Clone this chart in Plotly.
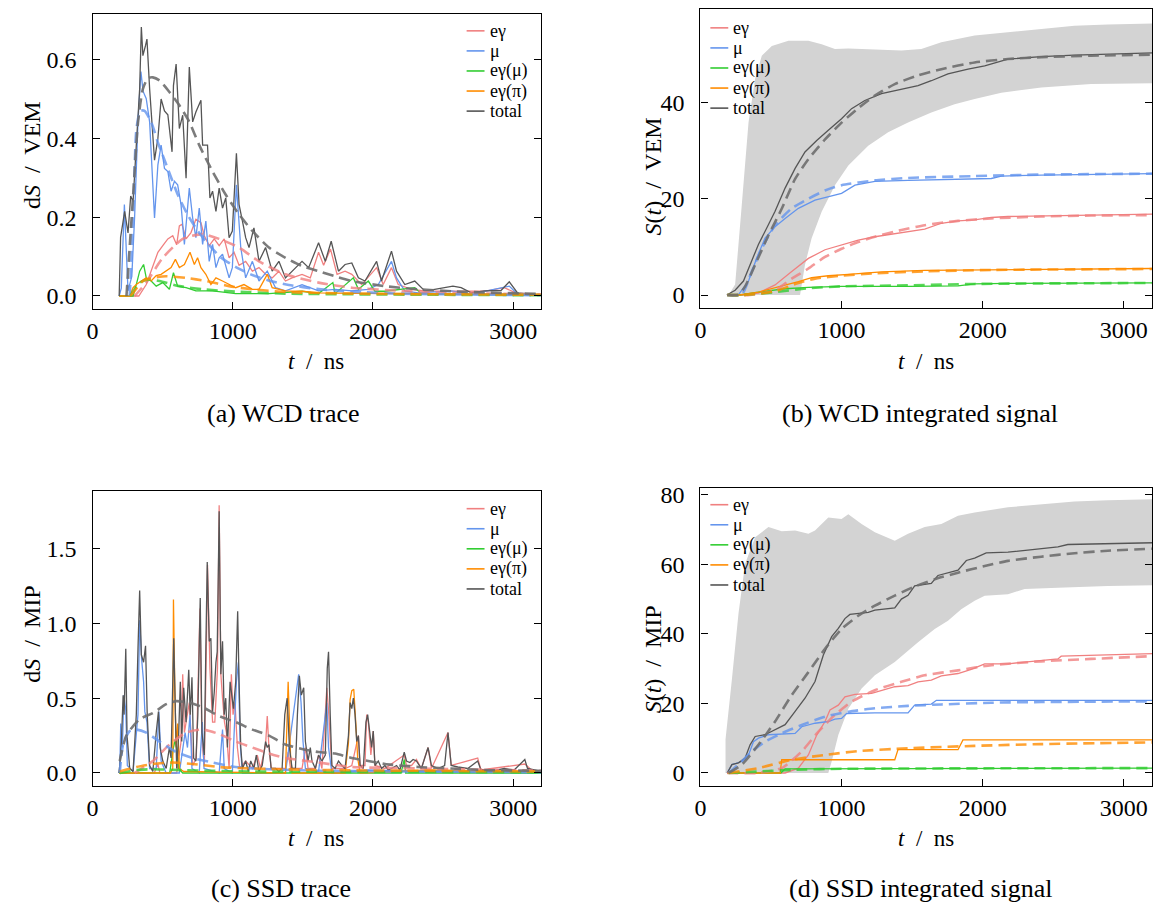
import plotly.graph_objects as go

# ---------------- data (t in ns, value) ----------------
# Panel (a): WCD trace, dS / VEM
A_EG = [(190,0),(330,0.0),(383,0.029),(430,0.078),(466,0.111),(501,0.128),(537,0.145),(572,0.153),(600,0.13),(619,0.178),(638,0.182),(667,0.145),(702,0.161),(737,0.195),(773,0.186),(797,0.153),(832,0.128),(868,0.145),(903,0.128),(939,0.145),(974,0.097),(1009,0.111),(1045,0.078),(1092,0.088),(1140,0.063),(1187,0.072),(1234,0.055),(1281,0.046),(1329,0.063),(1376,0.038),(1423,0.046),(1494,0.055),(1553,0.046),(1612,0.111),(1648,0.078),(1697,0.119),(1744,0.055),(1801,0.063),(1849,0.055),(1919,0.029),(2026,0.072),(2073,0.029),(2132,0.072),(2180,0.029),(2274,0.017),(2369,0.013),(2560,0.012),(2794,0.012),(2936,0.021),(3031,0.006),(3200,0.003)]
A_MU = [(190,0),(205,0.02),(227,0.232),(240,0.14),(253,0.013),(280,0.05),(300,0.2),(324,0.442),(345,0.57),(360,0.52),(383,0.501),(407,0.442),(442,0.198),(466,0.333),(489,0.383),(513,0.324),(537,0.316),(560,0.266),(584,0.291),(607,0.282),(631,0.232),(655,0.131),(690,0.274),(714,0.198),(737,0.148),(761,0.223),(785,0.131),(808,0.190),(832,0.088),(856,0.131),(880,0.072),(903,0.097),(927,0.106),(974,0.046),(997,0.072),(1026,0.282),(1057,0.123),(1092,0.046),(1140,0.088),(1187,0.038),(1246,0.063),(1305,0.021),(1376,0.013),(1494,0.029),(1612,0.013),(1730,0.017),(1849,0.013),(1967,0.017),(2038,0.029),(2132,0.088),(2168,0.046),(2227,0.013),(2322,0.008),(2558,0.013),(2700,0.005),(2972,0.025),(3031,0.005),(3200,0.003)]
A_EGMU = [(190,0),(289,0.0),(312,0.029),(336,0.063),(364,0.080),(383,0.046),(418,0.038),(454,0.025),(501,0.034),(548,0.017),(577,0.059),(607,0.025),(667,0.021),(737,0.013),(856,0.013),(1021,0.006),(1258,0.006),(1494,0.012),(1612,0.006),(1714,0.034),(1730,0.006),(1860,0.046),(1896,0.017),(1967,0.038),(2014,0.012),(2085,0.012),(2298,0.021),(2345,0.006),(3200,0.002)]
A_EGPI = [(190,0),(265,0.0),(289,0.021),(312,0.029),(348,0.038),(383,0.046),(418,0.038),(454,0.052),(489,0.055),(525,0.063),(560,0.072),(591,0.093),(619,0.072),(655,0.080),(695,0.111),(726,0.080),(749,0.097),(773,0.072),(808,0.055),(844,0.029),(880,0.046),(927,0.038),(974,0.029),(1021,0.021),(1080,0.029),(1140,0.017),(1187,0.017),(1246,0.055),(1281,0.021),(1376,0.013),(1494,0.012),(1612,0.008),(1849,0.007),(2085,0.006),(2322,0.006),(3200,0.004)]
A_TOT = [(190,0),(200,0.149),(229,0.215),(253,0.16),(272,0.254),(289,0.24),(312,0.383),(336,0.526),(348,0.683),(359,0.61),(378,0.636),(388,0.652),(407,0.526),(430,0.40),(442,0.345),(466,0.40),(489,0.50),(513,0.47),(537,0.46),(567,0.366),(577,0.534),(596,0.589),(619,0.425),(643,0.459),(667,0.299),(690,0.581),(714,0.442),(737,0.467),(773,0.497),(785,0.383),(820,0.383),(837,0.249),(856,0.266),(880,0.215),(903,0.274),(927,0.223),(950,0.249),(974,0.148),(997,0.165),(1026,0.362),(1045,0.232),(1069,0.190),(1092,0.148),(1116,0.123),(1151,0.173),(1187,0.088),(1234,0.123),(1281,0.063),(1329,0.088),(1376,0.046),(1423,0.063),(1494,0.088),(1541,0.072),(1612,0.135),(1660,0.088),(1702,0.139),(1754,0.063),(1801,0.080),(1849,0.084),(1896,0.046),(1943,0.038),(2026,0.088),(2061,0.038),(2132,0.114),(2168,0.063),(2227,0.029),(2298,0.038),(2369,0.013),(2440,0.017),(2570,0.025),(2629,0.021),(2700,0.008),(2794,0.013),(2913,0.014),(2972,0.036),(3031,0.008),(3200,0.003)]
A_EG_FIT = [(300,0),(383,0.034),(501,0.097),(643,0.145),(785,0.157),(903,0.145),(1045,0.123),(1187,0.088),(1376,0.055),(1612,0.034),(1849,0.021),(2204,0.013),(2560,0.008),(3200,0.004)]
A_MU_FIT = [(265,0),(290,0.2),(312,0.42),(340,0.47),(371,0.47),(420,0.44),(466,0.39),(540,0.32),(608,0.257),(680,0.205),(750,0.165),(830,0.13),(915,0.098),(1020,0.074),(1128,0.055),(1250,0.04),(1400,0.028),(1600,0.018),(1850,0.011),(2200,0.006),(3200,0.002)]
A_EGMU_FIT = [(270,0),(336,0.034),(407,0.042),(478,0.038),(619,0.025),(785,0.017),(1021,0.011),(1376,0.006),(3200,0.002)]
A_EGPI_FIT = [(270,0),(289,0.008),(359,0.038),(430,0.046),(525,0.050),(667,0.046),(808,0.038),(974,0.025),(1140,0.017),(1376,0.010),(1849,0.006),(3200,0.003)]
A_TOT_FIT = [(242,0),(289,0.254),(324,0.440),(359,0.526),(395,0.553),(430,0.555),(478,0.547),(548,0.518),(619,0.484),(690,0.442),(761,0.383),(856,0.316),(950,0.257),(1045,0.207),(1140,0.165),(1258,0.123),(1376,0.097),(1494,0.076),(1612,0.063),(1730,0.050),(1849,0.038),(2085,0.025),(2322,0.017),(2558,0.012),(2794,0.009),(3200,0.005)]

# Panel (b): WCD integrated signal, S(t) / VEM
B_EG = [(190,0),(300,0.0),(411,0.4),(529,2.1),(647,4.9),(765,7.6),(883,9.4),(1000,10.4),(1118,11.4),(1236,12.1),(1353,12.6),(1471,13.2),(1589,13.7),(1707,14.9),(1825,15.4),(1943,15.6),(2061,16.1),(2179,16.3),(2650,16.5),(3204,16.8)]
B_MU = [(190,0),(270,0.1),(341,2.9),(399,7.7),(458,11.8),(529,14.2),(600,15.9),(694,18.0),(812,19.7),(906,20.4),(1000,21.1),(1095,22.8),(1236,23.6),(1471,23.8),(1707,24.0),(2061,24.2),(2132,24.7),(2415,24.9),(3204,25.2)]
B_EGMU = [(190,0),(280,0.0),(411,0.6),(600,1.3),(765,1.6),(1000,1.8),(1471,1.8),(1825,1.9),(1943,2.3),(2179,2.4),(3204,2.5)]
B_EGPI = [(190,0),(280,0.0),(411,0.6),(576,1.8),(694,2.8),(788,3.6),(906,4.0),(1048,4.3),(1283,4.8),(1589,5.1),(1943,5.2),(2415,5.3),(3204,5.5)]
B_TOT = [(187,0),(246,1.0),(305,2.9),(364,7.0),(411,10.5),(470,13.9),(529,17.4),(600,22.2),(671,26.3),(741,29.7),(824,32.1),(906,34.2),(1000,36.6),(1071,38.7),(1165,40.4),(1283,41.8),(1424,42.7),(1542,43.5),(1636,44.5),(1754,45.9),(1896,46.9),(2014,47.6),(2179,49.0),(2415,49.5),(2650,49.8),(2886,50.0),(3204,50.3)]
B_EG_FIT = [(190,0),(350,0.0),(529,1.0),(647,3.4),(765,5.5),(883,7.9),(1000,9.6),(1118,11.0),(1236,12.1),(1424,13.5),(1589,14.5),(1825,15.4),(2061,15.9),(2415,16.3),(2768,16.5),(3204,16.6)]
B_MU_FIT = [(190,0),(290,0.0),(364,4.9),(435,9.7),(529,14.5),(647,18.0),(765,20.0),(883,21.7),(1000,22.8),(1236,23.8),(1471,24.3),(1943,24.7),(2415,25.0),(3204,25.2)]
B_EGMU_FIT = [(190,0),(300,0.0),(529,0.6),(765,1.4),(1000,1.8),(1471,2.0),(1943,2.3),(3204,2.5)]
B_EGPI_FIT = [(190,0),(300,0.0),(529,0.8),(694,2.5),(812,3.4),(1000,4.0),(1236,4.5),(1589,4.9),(2061,5.2),(3204,5.4)]
B_TOT_FIT = [(190,0),(270,0.1),(317,1.8),(388,6.3),(482,12.4),(576,17.9),(671,24.1),(765,28.2),(883,32.3),(1000,35.8),(1118,38.8),(1236,41.4),(1377,43.8),(1542,45.6),(1707,46.9),(1943,48.3),(2179,49.0),(2415,49.4),(2768,49.7),(3204,49.9)]
B_BAND_HI = [(200,0),(246,2.2),(293,18.7),(341,35.9),(388,44.9),(435,49.7),(506,51.7),(624,52.8),(765,52.8),(859,52.1),(953,51.1),(1048,51.2),(1236,51.0),(1424,50.8),(1565,51.1),(1707,52.5),(1943,53.9),(2179,54.6),(2415,55.2),(2650,55.9),(2886,56.2),(3204,56.4)]
B_BAND_LO = [(200,0),(706,0),(741,6.3),(788,11.8),(859,17.3),(953,22.8),(1048,26.9),(1189,31.0),(1330,33.8),(1471,35.8),(1636,37.9),(1801,39.6),(1943,40.7),(2132,42.0),(2415,43.1),(2768,43.8),(3204,44.0)]

# Panel (c): SSD trace, dS / MIP
C_EG = [(190,0),(440,0),(466,0.06),(480,0.0),(600,0.0),(630,0.2),(643,0.66),(655,0.27),(690,0.47),(714,0.05),(740,0.1),(766,1.1),(780,0.21),(797,0.05),(813,0.91),(820,1.39),(837,0.70),(856,0.34),(872,0.34),(891,0.70),(903,1.79),(915,0.66),(927,0.50),(941,0.34),(955,0.27),(974,0.03),(990,0.66),(1002,0.39),(1016,0.47),(1033,0.17),(1050,0.03),(1092,0.08),(1140,0.03),(1175,0.12),(1198,0.03),(1234,0.19),(1246,0.38),(1258,0.17),(1274,0.03),(1376,0.03),(1395,0.14),(1412,0.03),(1494,0.03),(1518,0.17),(1537,0.03),(1589,0.03),(1612,0.12),(1636,0.03),(1671,0.57),(1685,0.39),(1707,0.03),(1801,0.03),(1849,0.05),(1884,0.21),(1896,0.25),(1908,0.05),(1943,0.05),(1955,0.39),(1967,0.34),(1985,0.12),(2002,0.28),(2014,0.05),(2085,0.03),(2223,0.12),(2239,0.05),(2275,0.05),(2310,0.09),(2345,0.03),(2393,0.17),(2417,0.03),(2535,0.27),(2558,0.05),(2747,0.10),(2770,0.02),(3083,0.06),(3130,0.02),(3200,0.01)]
C_MU = [(190,0),(194,0.0),(201,0.33),(213,0.17),(223,0.52),(237,0.42),(248,0.05),(289,0.01),(324,0.39),(336,1.02),(350,0.76),(364,0.61),(373,0.41),(388,0.34),(407,0.03),(454,0.03),(473,0.41),(489,0.08),(525,0.0),(619,0.0),(660,0.27),(677,0.17),(695,0.39),(709,0.03),(761,0.0),(783,0.34),(795,0.03),(903,0.0),(927,0.29),(939,0.03),(997,0.0),(1026,0.61),(1040,0.74),(1052,0.21),(1069,0.0),(1187,0.0),(1376,0.0),(1470,0.66),(1487,0.47),(1501,0.21),(1518,0.03),(1612,0.01),(1671,0.47),(1683,0.17),(1707,0.0),(1849,0.01),(1967,0.02),(2322,0.01),(3200,0.0)]
C_EGMU = [(190,0),(550,0),(577,0.17),(589,0.22),(600,0.17),(614,0.03),(643,0.0),(2200,0.0),(2223,0.09),(2233,0.0),(3200,0)]
C_EGPI = [(190,0),(555,0),(572,0.03),(577,1.16),(586,0.61),(596,0.17),(607,0.33),(619,0.03),(650,0.01),(1376,0.0),(1395,0.61),(1412,0.12),(1423,0.0),(1801,0.0),(1825,0.2),(1837,0.49),(1849,0.55),(1863,0.56),(1877,0.34),(1891,0.10),(1908,0.0),(2400,0.02),(2800,0.01),(3200,0.01)]
C_TOT = [(187,0),(194,0.05),(206,0.21),(218,0.52),(225,0.39),(237,0.83),(246,0.25),(265,0.03),(289,0.01),(312,0.39),(324,0.83),(336,1.22),(348,0.79),(364,0.74),(378,0.85),(390,0.39),(407,0.05),(430,0.01),(454,0.27),(470,0.41),(482,0.17),(501,0.08),(525,0.03),(548,0.17),(560,0.10),(579,0.90),(591,0.39),(600,0.03),(614,0.25),(626,0.61),(636,0.21),(650,0.57),(667,0.34),(686,0.69),(697,0.39),(709,0.64),(721,0.10),(737,0.08),(751,0.39),(768,1.17),(780,0.27),(797,0.12),(808,0.83),(818,1.41),(832,0.88),(844,0.90),(856,0.41),(868,0.54),(880,0.74),(889,0.81),(903,1.75),(915,0.66),(927,0.88),(939,0.39),(950,0.50),(962,0.17),(981,0.61),(993,0.50),(1005,0.43),(1021,0.61),(1035,1.08),(1045,0.61),(1057,0.17),(1069,0.03),(1092,0.08),(1111,0.01),(1128,0.08),(1151,0.03),(1168,0.12),(1187,0.01),(1210,0.05),(1234,0.21),(1246,0.17),(1258,0.19),(1274,0.03),(1305,0.03),(1329,0.01),(1352,0.03),(1371,0.39),(1388,0.50),(1404,0.17),(1423,0.03),(1447,0.03),(1461,0.39),(1475,0.65),(1489,0.52),(1506,0.57),(1518,0.21),(1537,0.08),(1553,0.17),(1565,0.08),(1589,0.03),(1612,0.12),(1636,0.08),(1660,0.12),(1674,0.70),(1683,0.81),(1695,0.39),(1707,0.05),(1730,0.03),(1754,0.08),(1778,0.05),(1801,0.03),(1825,0.25),(1837,0.47),(1849,0.43),(1860,0.50),(1872,0.39),(1884,0.21),(1896,0.25),(1908,0.05),(1931,0.03),(1950,0.34),(1962,0.39),(1979,0.25),(1990,0.17),(2002,0.28),(2014,0.05),(2038,0.08),(2061,0.03),(2085,0.05),(2109,0.02),(2132,0.03),(2168,0.05),(2192,0.02),(2223,0.14),(2239,0.08),(2263,0.07),(2286,0.09),(2310,0.08),(2345,0.03),(2393,0.17),(2417,0.05),(2464,0.03),(2511,0.05),(2535,0.27),(2558,0.05),(2605,0.04),(2676,0.03),(2747,0.08),(2770,0.02),(2841,0.01),(2936,0.03),(3007,0.02),(3083,0.09),(3102,0.03),(3200,0.01)]
C_EG_FIT = [(300,0),(430,0.08),(548,0.19),(667,0.27),(785,0.29),(903,0.26),(1021,0.21),(1140,0.17),(1258,0.13),(1376,0.10),(1612,0.07),(1849,0.04),(2322,0.03),(3200,0.015)]
C_MU_FIT = [(194,0),(218,0.19),(265,0.28),(312,0.29),(383,0.27),(478,0.21),(596,0.14),(714,0.10),(856,0.07),(1021,0.04),(1258,0.025),(1612,0.015),(3200,0.005)]
C_EGMU_FIT = [(194,0),(312,0.02),(430,0.025),(667,0.018),(1140,0.01),(3200,0.005)]
C_EGPI_FIT = [(194,0.01),(312,0.04),(430,0.06),(572,0.07),(714,0.06),(903,0.04),(1140,0.03),(1612,0.02),(3200,0.01)]
C_TOT_FIT = [(194,0.08),(241,0.25),(336,0.36),(430,0.40),(525,0.46),(596,0.48),(690,0.47),(785,0.44),(903,0.38),(1021,0.34),(1140,0.29),(1258,0.25),(1376,0.19),(1494,0.16),(1612,0.14),(1730,0.13),(1849,0.10),(1967,0.08),(2085,0.06),(2322,0.04),(2558,0.03),(2794,0.02),(3200,0.015)]

# Panel (d): SSD integrated signal, S(t) / MIP
D_EG = [(190,0),(600,0.0),(694,1.4),(765,5.2),(824,10.9),(883,14.8),(918,18.1),(977,19.5),(1024,21.9),(1095,22.6),(1213,22.9),(1283,23.8),(1377,24.8),(1471,25.1),(1542,26.2),(1636,26.7),(1707,27.9),(1825,28.6),(1919,29.8),(2014,31.4),(2179,31.4),(2297,31.9),(2533,32.8),(2556,33.6),(2886,33.9),(3204,34.3)]
D_MU = [(190,0),(223,2.4),(293,3.3),(341,5.2),(376,9.0),(411,10.0),(482,11.0),(671,11.4),(718,13.3),(812,14.3),(906,14.8),(953,15.5),(1000,15.7),(1036,17.1),(1236,17.3),(1471,17.3),(1518,19.5),(1636,19.8),(1672,20.9),(3204,20.9)]
D_EGMU = [(190,0),(570,0.0),(600,1.2),(1500,1.3),(3204,1.4)]
D_EGPI = [(190,0),(565,0.0),(576,3.8),(1377,3.8),(1400,6.7),(1825,6.7),(1860,9.5),(3204,9.5)]
D_TOT = [(190,0),(223,2.4),(270,2.9),(317,4.3),(352,8.1),(388,10.5),(458,11.0),(529,12.4),(600,13.9),(671,17.7),(741,21.5),(812,26.3),(871,33.9),(930,39.2),(977,41.6),(1024,44.4),(1059,45.6),(1189,46.2),(1236,46.8),(1377,47.5),(1424,50.0),(1471,51.1),(1518,53.8),(1636,54.5),(1683,56.8),(1825,58.3),(1884,61.1),(1943,61.8),(2025,63.3),(2179,63.5),(2297,64.0),(2533,65.0),(2603,65.7),(2886,65.9),(3204,66.2)]
D_EG_FIT = [(190,0),(400,0.0),(576,1.4),(718,6.2),(836,11.9),(953,16.7),(1071,20.5),(1236,23.8),(1424,26.2),(1589,28.1),(1825,29.5),(2061,31.0),(2415,32.1),(2768,32.8),(3204,33.6)]
D_MU_FIT = [(200,0),(293,3.3),(364,6.2),(458,9.0),(576,11.4),(718,13.8),(883,16.2),(1048,17.6),(1236,18.6),(1471,19.3),(1707,19.7),(2061,20.2),(2415,20.4),(3204,20.6)]
D_EGMU_FIT = [(200,0),(400,0.4),(647,0.9),(1000,1.2),(3204,1.4)]
D_EGPI_FIT = [(200,0),(411,1.4),(647,3.8),(883,5.2),(1118,6.3),(1471,7.1),(1943,7.8),(2415,8.3),(3204,8.8)]
D_TOT_FIT = [(200,0),(293,2.4),(411,8.1),(529,14.8),(647,22.4),(765,29.0),(883,35.7),(1000,41.4),(1118,45.2),(1236,48.1),(1377,51.0),(1518,53.6),(1660,55.7),(1825,57.6),(2014,59.5),(2179,61.0),(2415,62.2),(2650,63.2),(2886,63.9),(3204,64.5)]
D_BAND_HI = [(178,0),(178,9.7),(223,26.9),(270,45.9),(317,60.2),(388,67.8),(482,70.7),(576,69.5),(671,69.7),(765,68.8),(812,69.7),(906,73.5),(1000,73.0),(1048,74.4),(1142,71.6),(1236,69.2),(1377,66.8),(1471,68.8),(1589,70.7),(1707,71.6),(1825,74.0),(1943,74.9),(2179,76.4),(2415,77.3),(2650,78.1),(2886,78.4),(3204,78.7)]
D_BAND_LO = [(178,0),(906,0),(930,3.3),(977,10.9),(1048,18.5),(1142,24.3),(1236,28.1),(1377,31.9),(1471,35.2),(1542,37.6),(1660,41.4),(1754,43.8),(1848,47.1),(1943,49.5),(2014,51.0),(2179,51.4),(2297,52.9),(2533,53.3),(2886,53.8),(3204,54.0)]

NAMES = ["eγ", "μ", "eγ(μ)", "eγ(π)", "total"]
COLORS = ["#f08080", "#6495ed", "#32cd32", "#ff8c00", "#555555"]
FIT_COLORS = ["rgba(240,128,128,0.8)", "rgba(100,149,237,0.8)", "rgba(50,205,50,0.8)",
              "rgba(255,140,0,0.8)", "rgba(110,110,110,0.9)"]

PANELS = [
    dict(ax="", solid=[A_EG, A_MU, A_EGMU, A_EGPI, A_TOT],
         fit=[A_EG_FIT, A_MU_FIT, A_EGMU_FIT, A_EGPI_FIT, A_TOT_FIT], band=None),
    dict(ax="2", solid=[B_EG, B_MU, B_EGMU, B_EGPI, B_TOT],
         fit=[B_EG_FIT, B_MU_FIT, B_EGMU_FIT, B_EGPI_FIT, B_TOT_FIT], band=(B_BAND_HI, B_BAND_LO)),
    dict(ax="3", solid=[C_EG, C_MU, C_EGMU, C_EGPI, C_TOT],
         fit=[C_EG_FIT, C_MU_FIT, C_EGMU_FIT, C_EGPI_FIT, C_TOT_FIT], band=None),
    dict(ax="4", solid=[D_EG, D_MU, D_EGMU, D_EGPI, D_TOT],
         fit=[D_EG_FIT, D_MU_FIT, D_EGMU_FIT, D_EGPI_FIT, D_TOT_FIT], band=(D_BAND_HI, D_BAND_LO)),
]

FONT = "Liberation Serif"
W, H = 1166, 914

fig = go.Figure()

def xy(pairs):
    return [p[0] for p in pairs], [p[1] for p in pairs]

for p in PANELS:
    xa, ya = "x" + p["ax"], "y" + p["ax"]
    if p["band"] is not None:
        hi, lo = p["band"]
        hx, hy = xy(hi)
        lx, ly = xy(lo)
        fig.add_trace(go.Scatter(x=hx + lx[::-1], y=hy + ly[::-1], fill="toself",
                                 fillcolor="#d3d3d3", line=dict(width=0), mode="lines",
                                 showlegend=False, xaxis=xa, yaxis=ya, hoverinfo="skip"))
    for i, series in enumerate(p["solid"]):
        tx, ty = xy(series)
        fig.add_trace(go.Scatter(x=tx, y=ty, mode="lines", name=NAMES[i], showlegend=False,
                                 line=dict(color=COLORS[i], width=1.3),
                                 xaxis=xa, yaxis=ya))
    for i, series in enumerate(p["fit"]):
        tx, ty = xy(series)
        fig.add_trace(go.Scatter(x=tx, y=ty, mode="lines", showlegend=False,
                                 line=dict(color=FIT_COLORS[i], width=2.6, dash="11px,6px",
                                           shape="spline", smoothing=0.6),
                                 xaxis=xa, yaxis=ya))

def px_x(a, b):
    return [a / W, b / W]

def px_y(top, bottom):
    return [1 - bottom / H, 1 - top / H]

axis_common = dict(showgrid=False, zeroline=False, showline=True, linecolor="black",
                   linewidth=1.3, ticks="inside", ticklen=7, tickwidth=1.2, tickcolor="black",
                   tickfont=dict(family=FONT, size=24, color="black"))

DOMAINS = [
    (px_x(87, 538), px_y(8, 305), [-0.033, 0.716], [0, 0.2, 0.4, 0.6], ["0.0", "0.2", "0.4", "0.6"]),
    (px_x(698, 1152), px_y(3, 304), [-2.7, 59.4], [0, 20, 40], ["0", "20", "40"]),
    (px_x(87, 538), px_y(488, 785), [-0.086, 1.886], [0, 0.5, 1.0, 1.5], ["0.0", "0.5", "1.0", "1.5"]),
    (px_x(698, 1152), px_y(485, 785), [-3.7, 82], [0, 20, 40, 60, 80], ["0", "20", "40", "60", "80"]),
]

layout = {}
for k, (dx, dy, yr, yv, yt) in enumerate(DOMAINS):
    suf = "" if k == 0 else str(k + 1)
    layout["xaxis" + suf] = dict(axis_common, domain=dx, range=[0, 3200], anchor="y" + suf,
                                 tickvals=[0, 1000, 2000, 3000], mirror=True,
                                 ticklabelstandoff=0)
    layout["yaxis" + suf] = dict(axis_common, domain=dy, range=yr, anchor="x" + suf,
                                 tickvals=yv, ticktext=yt, mirror="ticks",
                                 ticklabelstandoff=10)

fig.update_layout(**layout)

ann = []
shapes = []
def text_at(txt, x, y, angle=0, size=23, xanchor="center"):
    ann.append(dict(text=txt, x=x / W, y=1 - y / H, xref="paper", yref="paper",
                    showarrow=False, xanchor=xanchor, yanchor="middle", textangle=angle,
                    font=dict(family=FONT, size=size, color="black")))

# legends (line sample + label), one per panel
LEGEND_POS = [(463, 25), (708, 22), (463, 506), (708, 502)]
for (lx, ly) in LEGEND_POS:
    for i, nm in enumerate(NAMES):
        yy = ly + i * 20.2
        shapes.append(dict(type="line", xref="paper", yref="paper",
                           x0=lx / W, x1=(lx + 18) / W, y0=1 - yy / H, y1=1 - yy / H,
                           line=dict(color=COLORS[i], width=1.6)))
        text_at(nm, lx + 21, yy, size=18, xanchor="left")

text_at("<i>t</i>  /  ns", 312, 358)
text_at("<i>t</i>  /  ns", 925, 358)
text_at("<i>t</i>  /  ns", 312, 838)
text_at("<i>t</i>  /  ns", 925, 838)
text_at("d<i>S</i>  /  VEM", 26, 150, angle=-90, size=24)
text_at("<i>S</i>(<i>t</i>)  /  VEM", 650, 172, angle=-90, size=24)
text_at("d<i>S</i>  /  MIP", 26, 632, angle=-90, size=24)
text_at("<i>S</i>(<i>t</i>)  /  MIP", 650, 658, angle=-90, size=24)
text_at("(a) WCD trace", 279, 410, size=26)
text_at("(b) WCD integrated signal", 919, 410, size=26)
text_at("(c) SSD trace", 276, 888, size=26)
text_at("(d) SSD integrated signal", 920, 888, size=26)

fig.update_layout(annotations=ann, shapes=shapes, width=W, height=H,
                  margin=dict(l=0, r=0, t=0, b=0),
                  paper_bgcolor="white", plot_bgcolor="white", showlegend=False)

POST = ("document.documentElement.style.margin='0px';"
        "document.body.style.margin='0px';document.body.style.padding='0px';"
        "var gd=document.getElementsByClassName('plotly-graph-div')[0];"
        "gd.style.position='absolute';gd.style.left='0px';gd.style.top='0px';")

fig.write_html("out.html", config={"displayModeBar": False}, post_script=POST)
